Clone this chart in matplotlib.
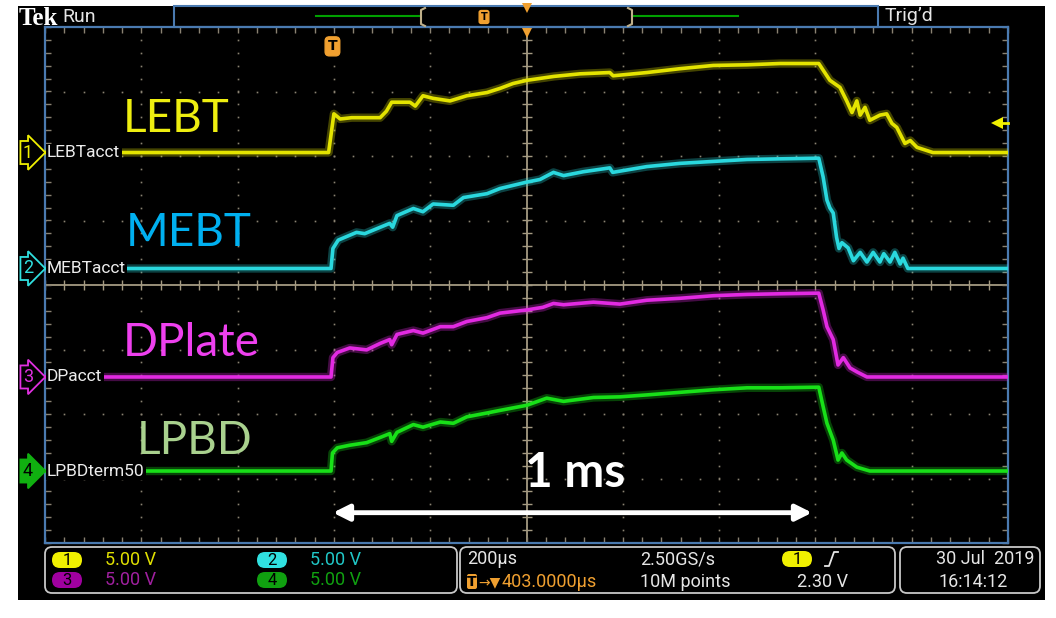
import matplotlib
matplotlib.use('Agg')
import matplotlib.pyplot as plt
import numpy as np
from matplotlib.patches import Rectangle, FancyBboxPatch
from matplotlib import font_manager, transforms

# ---------------- data ----------------
# time in microseconds relative to trigger; amplitude in volts (5 V/div)
t_lebt = [-597, -8, 3, 16, 40, 99, 112, 123, 161, 172, 188, 209, 244, 279, 321, 348, 375, 404, 460,
          514, 576, 583, 653, 722, 791, 861, 930, 1010, 1033, 1054, 1068, 1079, 1089, 1096, 1106, 1116,
          1137, 1151, 1162, 1172, 1189, 1200, 1214, 1247, 1403]
v_lebt = [0, 0, 3.0, 2.6, 2.7, 2.7, 3.2, 3.9, 3.9, 3.6, 4.4, 4.2, 4.0, 4.4, 4.65, 4.97, 5.35, 5.6, 5.9,
          6.1, 6.2, 5.95, 6.2, 6.5, 6.75, 6.8, 6.9, 6.9, 5.6, 5.05, 4.0, 3.1, 4.0, 2.9, 3.5, 2.5,
          2.9, 3.0, 2.25, 1.95, 0.7, 0.93, 0.4, 0, 0]

t_mebt = [-597, -3, 1, 12, 50, 67, 119, 125, 134, 168, 188, 209, 251, 272, 321, 348, 404, 431, 459,
          480, 521, 576, 582, 653, 722, 791, 861, 930, 1010, 1019, 1027, 1033, 1040, 1047, 1052, 1058,
          1071, 1082, 1096, 1110, 1123, 1137, 1145, 1158, 1168, 1179, 1185, 1195, 1403]
v_mebt = [0, 0, 1.55, 2.2, 2.8, 2.7, 3.5, 3.2, 4.1, 4.65, 4.4, 5.0, 4.9, 5.5, 5.8, 6.2, 6.7, 6.9, 7.45,
          7.2, 7.5, 7.8, 7.45, 7.9, 8.15, 8.3, 8.45, 8.5, 8.55, 7.1, 5.3, 4.7, 4.3, 2.4, 1.55, 2.0,
          1.6, 0.6, 1.25, 0.5, 1.25, 0.5, 1.15, 0.5, 1.25, 0.35, 0.8, 0, 0]

t_dp = [-597, -3, 1, 10, 36, 71, 99, 119, 123, 134, 168, 188, 224, 251, 279, 321, 348, 404, 437, 459,
        480, 542, 597, 653, 722, 791, 861, 930, 1010, 1019, 1027, 1040, 1050, 1061, 1075, 1089, 1110, 1403]
v_dp = [0, 0, 1.5, 1.9, 2.25, 2.1, 2.6, 2.9, 2.5, 3.3, 3.6, 3.4, 3.9, 3.9, 4.3, 4.6, 4.95, 5.2, 5.4, 5.7,
        5.6, 5.8, 5.65, 5.95, 6.1, 6.3, 6.4, 6.45, 6.5, 5.2, 3.9, 2.9, 0.93, 1.5, 0.7, 0.4, 0, 0]

t_lpbd = [-597, -3, 0, 10, 36, 71, 99, 119, 123, 134, 168, 188, 224, 251, 279, 321, 348, 404, 445, 480,
          542, 597, 653, 722, 791, 861, 930, 1010, 1019, 1027, 1040, 1050, 1058, 1068, 1089, 1116, 1403]
v_lpbd = [0, 0, 1.4, 1.8, 2.0, 2.2, 2.6, 2.9, 2.3, 3.0, 3.6, 3.4, 3.8, 3.7, 4.2, 4.5, 4.7, 5.1, 5.65, 5.4,
          5.7, 5.75, 5.9, 6.1, 6.3, 6.45, 6.45, 6.5, 5.0, 3.7, 2.4, 0.85, 1.4, 0.85, 0.3, 0, 0]

channel_names = ['LEBTacct', 'MEBTacct', 'DPacct', 'LPBDterm50']
beam_labels = ['LEBT', 'MEBT', 'DPlate', 'LPBD']
channel_offsets_div = [2.054, 0.256, -1.426, -2.884]
volts_per_div = [5.0, 5.0, 5.0, 5.0]
time_per_div = 200.0          # us
trigger_delay = 403.0         # us
trigger_level = 2.30          # V on ch1
pulse_span = [1, 996]         # us, the "1 ms" arrow

# ---------------- fonts ----------------
names = {f.name for f in font_manager.fontManager.ttflist}
scope_font = 'Roboto' if 'Roboto' in names else 'DejaVu Sans'
big_font = 'Lato' if 'Lato' in names else 'DejaVu Sans'

W, H = 1056, 618
fig = plt.figure(figsize=(W / 100, H / 100), dpi=100)
fig.patch.set_facecolor('white')

bg = fig.add_axes([0, 0, 1, 1])
bg.set_xlim(0, W); bg.set_ylim(H, 0); bg.axis('off'); bg.set_zorder(0)
bg.add_patch(Rectangle((18, 6), 1027, 594, fc='black', ec='none'))

# ---------------- graticule axes ----------------
gx0, gx1, gy0, gy1 = 45, 1008, 27, 543
ax = fig.add_axes([gx0 / W, 1 - gy1 / H, (gx1 - gx0) / W, (gy1 - gy0) / H])
ax.set_zorder(1); ax.patch.set_alpha(0)
xc = trigger_delay
xmin, xmax = xc - 5 * time_per_div, xc + 5 * time_per_div
ax.set_xlim(xmin, xmax); ax.set_ylim(-4, 4)
ax.set_xticks([]); ax.set_yticks([])
for s in ax.spines.values():
    s.set_color('#4a7ab0'); s.set_linewidth(1.6)

dotc = '#8a8272'
ys_minor = np.arange(-4, 4.001, 0.2)
xs_minor = np.arange(xmin, xmax + 0.1, time_per_div / 5)
for k in range(1, 10):
    if k == 5:
        continue
    x = xmin + k * time_per_div
    ax.plot([x] * len(ys_minor), ys_minor, ls='none', marker='s', ms=1.2, mew=0, color=dotc)
for k in range(-3, 4):
    if k == 0:
        continue
    ax.plot(xs_minor, [k] * len(xs_minor), ls='none', marker='s', ms=1.2, mew=0, color=dotc)
# center cross
ax.axvline(xc, color='#a49a82', lw=1.3, zorder=2)
ax.axhline(0, color='#a49a82', lw=1.3, zorder=2)
ax.plot([xc] * len(ys_minor), ys_minor, ls='none', marker='_', ms=7, mew=1, color='#a49a82')
ax.plot(xs_minor, [0] * len(xs_minor), ls='none', marker='|', ms=7, mew=1, color='#a49a82')
# edge ticks
ax.plot(xs_minor, [4] * len(xs_minor), ls='none', marker=3, ms=4, mew=1, color=dotc, clip_on=False)
ax.plot(xs_minor, [-4] * len(xs_minor), ls='none', marker=2, ms=4, mew=1, color=dotc, clip_on=False)
ax.plot([xmin] * len(ys_minor), ys_minor, ls='none', marker=1, ms=4, mew=1, color=dotc, clip_on=False)
ax.plot([xmax] * len(ys_minor), ys_minor, ls='none', marker=0, ms=4, mew=1, color=dotc, clip_on=False)

# ---------------- traces ----------------
trace_cols = ['#e4e400', '#2ad8de', '#e22ae2', '#18e018']
series = [(t_lebt, v_lebt), (t_mebt, v_mebt), (t_dp, v_dp), (t_lpbd, v_lpbd)]
for (t, v), off, vpd, c in zip(series, channel_offsets_div, volts_per_div, trace_cols):
    y = off + np.array(v) / vpd
    ax.plot(t, y, color=c, lw=6, alpha=0.3, solid_joinstyle='round', zorder=3)
    ax.plot(t, y, color=c, lw=2.6, solid_joinstyle='round', zorder=4)

# trigger level arrow (ch1)
ylev = channel_offsets_div[0] + trigger_level / volts_per_div[0]
ax.plot([xmax - 22, xmax], [ylev, ylev], color='#f0f000', lw=2, clip_on=False, zorder=5)
ax.plot(xmax - 22, ylev, marker='<', ms=9, color='#f0f000', mew=0, clip_on=False, zorder=5)
# trigger position markers
ax.text(0, 3.7, 'T', color='black', fontsize=10, fontweight='bold', ha='center', va='center',
        family='DejaVu Sans', zorder=6,
        bbox=dict(boxstyle='round,pad=0.18,rounding_size=0.3', fc='#f0a030', ec='#f0a030'))
ax.plot(xc, 3.93, marker='v', ms=8, color='#f0a030', mew=0, clip_on=False, zorder=6)

# 1 ms arrow
ax.annotate('', xy=(pulse_span[1], -3.53), xytext=(pulse_span[0], -3.53),
            arrowprops=dict(arrowstyle='<|-|>', color='white', lw=3.5, mutation_scale=24,
                            shrinkA=0, shrinkB=0), zorder=7)
ax.text((pulse_span[0] + pulse_span[1]) / 2 + 5, -3.13, '1 ms', color='white', fontsize=34.5,
        fontweight='bold', family=big_font, ha='center', va='baseline', zorder=7)

# ---------------- overlay: labels ----------------
ov = fig.add_axes([0, 0, 1, 1])
ov.set_xlim(0, W); ov.set_ylim(H, 0); ov.axis('off'); ov.set_zorder(5); ov.patch.set_alpha(0)
blend = transforms.blended_transform_factory(ov.transData, ax.transData)

marker_fc = ['black', 'black', 'black', '#10b010']
marker_tc = ['#f0f000', '#30e0e0', '#e030e0', 'black']
marker_ec = ['#f0f000', '#30e0e0', '#e030e0', '#10b010']
for i, (nm, off) in enumerate(zip(channel_names, channel_offsets_div)):
    ov.text(28, off, str(i + 1), transform=blend, color=marker_tc[i], fontsize=13, family=scope_font,
            ha='center', va='center', zorder=8,
            bbox=dict(boxstyle='rarrow,pad=0.14', fc=marker_fc[i], ec=marker_ec[i], lw=1.3))
    ov.text(47, off, nm, transform=blend, color='#ececec', fontsize=12.5, family=scope_font,
            ha='left', va='center', zorder=8,
            bbox=dict(boxstyle='square,pad=0.08', fc='black', ec='none'))

big_cols = ['#eeee10', '#00b0f0', '#ee40ee', '#a9d18e']
big_pos = [(123, 132), (126, 246), (123, 356), (137, 454)]
for lab, c, (x, y) in zip(beam_labels, big_cols, big_pos):
    ov.text(x, y, lab, color=c, fontsize=33, family=big_font, ha='left', va='baseline', zorder=9)

# ---------------- top bar ----------------
ov.text(19, 25, 'Tek', color='white', fontsize=18, fontweight='bold', family='Liberation Serif',
        ha='left', va='baseline')
ov.text(62, 17, 'Run', color='#e6e6e6', fontsize=14, family=scope_font, ha='left', va='center')
ov.add_patch(Rectangle((174, 6), 704, 21, fc='none', ec='#4a7ab0', lw=1.5))
ov.plot([316, 421], [16, 16], color='#00a000', lw=1.5)
ov.plot([632, 738], [16, 16], color='#00a000', lw=1.5)
ov.plot([425, 421, 421, 425], [8, 10, 24, 26], color='#c0b08a', lw=1.5)
ov.plot([628, 632, 632, 628], [8, 10, 24, 26], color='#c0b08a', lw=1.5)
ov.text(484, 17, 'T', color='black', fontsize=7, fontweight='bold', ha='center', va='center',
        bbox=dict(boxstyle='round,pad=0.15,rounding_size=0.2', fc='#f0a030', ec='#f0a030'))
ov.plot(527, 8, marker='v', ms=7, color='#f0a030', mew=0)
ov.text(885, 16, 'Trig\u2019d', color='#e6e6e6', fontsize=14, family=scope_font, ha='left', va='center')

# ---------------- status bar ----------------
for (x0, x1) in [(45, 457), (460, 895), (900, 1040)]:
    ov.add_patch(FancyBboxPatch((x0, 547), x1 - x0, 46, boxstyle='round,pad=0,rounding_size=7',
                                fc='black', ec='#c8c8c8', lw=1.3))

def pill(xc_, yc_, txt, fc, tc='black'):
    ov.add_patch(FancyBboxPatch((xc_ - 15, yc_ - 8), 30, 16, boxstyle='round,pad=0,rounding_size=8',
                                fc=fc, ec='none'))
    ov.text(xc_, yc_ + 0.5, txt, color=tc, fontsize=12, family=scope_font, ha='center', va='center')

pill_cols = ['#f0f000', '#30e0e0', '#a000a0', '#10a010']
scale_cols = ['#e0e000', '#20c8c8', '#a020a0', '#10a010']
pill_xy = [(67, 560), (272, 560), (67, 580), (272, 580)]
for i, ((px, py), vpd) in enumerate(zip(pill_xy, volts_per_div)):
    pill(px, py, str(i + 1), pill_cols[i])
    ov.text(px + 38, py, f'{vpd:.2f} V', color=scale_cols[i], fontsize=13, family=scope_font,
            ha='left', va='center')

ov.text(467, 559, f'{time_per_div:.0f}\u00b5s', color='#e6e6e6', fontsize=13, family=scope_font,
        ha='left', va='center')
ov.text(640, 559, '2.50GS/s', color='#e6e6e6', fontsize=13, family=scope_font, ha='left', va='center')
pill(797, 559, '1', '#f0f000')
ov.plot([825, 829, 834, 838], [566, 566, 552, 552], color='#e6e6e6', lw=1.3)
ov.add_patch(FancyBboxPatch((467, 574), 10, 15, boxstyle='round,pad=0,rounding_size=2',
                            fc='#f0a030', ec='none'))
ov.text(472, 582, 'T', color='black', fontsize=10, fontweight='bold', ha='center', va='center')
ov.text(478, 582, '\u2192\u25bc', color='#f0a030', fontsize=10, family='DejaVu Sans',
        ha='left', va='center')
ov.text(502, 582, f'{trigger_delay:.4f}\u00b5s', color='#f0a030', fontsize=13, family=scope_font,
        ha='left', va='center')
ov.text(640, 582, '10M points', color='#e6e6e6', fontsize=13, family=scope_font, ha='left', va='center')
ov.text(797, 582, f'{trigger_level:.2f} V', color='#e6e6e6', fontsize=13, family=scope_font,
        ha='left', va='center')
ov.text(1035, 559, '30 Jul  2019', color='#e6e6e6', fontsize=13, family=scope_font, ha='right', va='center')
ov.text(938, 582, '16:14:12', color='#e6e6e6', fontsize=13, family=scope_font, ha='left', va='center')

fig.savefig('out.png', dpi=100, facecolor='white')
